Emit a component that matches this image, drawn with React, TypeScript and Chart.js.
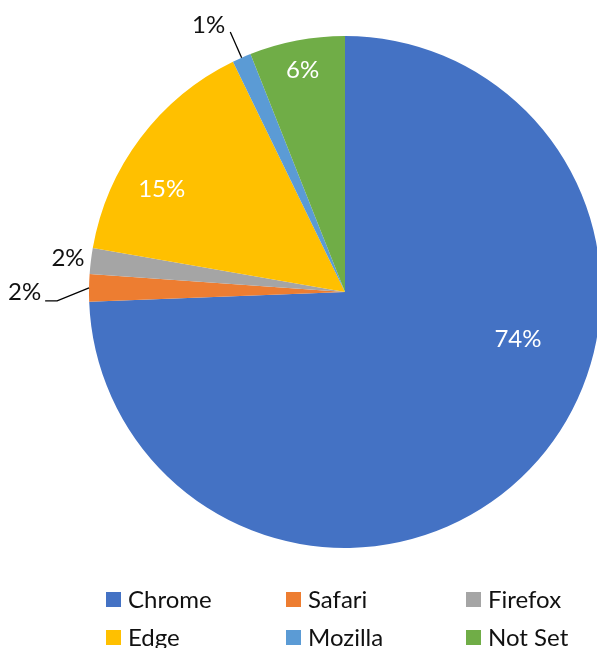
import React, { useEffect, useRef } from "react";
import { Chart, registerables } from "chart.js";

Chart.register(...registerables);

const categories = ["Chrome", "Safari", "Firefox", "Edge", "Mozilla", "Not Set"];
const shares = [74.4, 1.73, 1.62, 15.05, 1.19, 6.02];
const pctLabels = ["74%", "2%", "2%", "15%", "1%", "6%"];
const colors = ["#4472C4", "#ED7D31", "#A5A5A5", "#FFC000", "#5B9BD5", "#70AD47"];

const FONT = "24px Lato, 'Open Sans', sans-serif";
const TEXT_DARK = "#111111";

// label placement relative to each slice (angle offset from slice middle, radius fraction)
const labelPlacement: any[] = [
  { kind: "inside", dAngle: -28.7, r: 0.7 },
  { kind: "leader", dAngle: -2.7, r: 1.125, tail: -12, dx: -4, dy: -9 },
  { kind: "outside", dAngle: 0, r: 1.09 },
  { kind: "inside", dAngle: -7.8, r: 0.82 },
  { kind: "leader", dAngle: 0, r: 1.11, tail: 0, dx: -5, dy: -7 },
  { kind: "inside", dAngle: 0, r: 0.88 },
];

const labelPlugin = {
  id: "sliceLabels",
  afterDatasetsDraw(chart: any) {
    const ctx = chart.ctx;
    const meta = chart.getDatasetMeta(0);
    ctx.save();
    ctx.font = FONT;
    meta.data.forEach((arc: any, i: number) => {
      const { x, y, startAngle, endAngle, outerRadius } = arc.getProps(
        ["x", "y", "startAngle", "endAngle", "outerRadius"],
        true
      );
      const mid = (startAngle + endAngle) / 2;
      const p = labelPlacement[i];
      const a = mid + (p.dAngle * Math.PI) / 180;
      const px = x + Math.cos(a) * outerRadius * p.r;
      const py = y + Math.sin(a) * outerRadius * p.r;
      if (p.kind === "inside") {
        ctx.fillStyle = "#ffffff";
        ctx.textAlign = "center";
        ctx.textBaseline = "middle";
        ctx.fillText(pctLabels[i], px, py);
      } else if (p.kind === "outside") {
        ctx.fillStyle = TEXT_DARK;
        ctx.textAlign = "center";
        ctx.textBaseline = "middle";
        ctx.fillText(pctLabels[i], px, py);
      } else {
        const ex = x + Math.cos(mid) * outerRadius;
        const ey = y + Math.sin(mid) * outerRadius;
        const endX = px + p.tail;
        ctx.strokeStyle = "#000000";
        ctx.lineWidth = 1.3;
        ctx.beginPath();
        ctx.moveTo(ex, ey);
        ctx.lineTo(px, py);
        if (p.tail !== 0) ctx.lineTo(endX, py);
        ctx.stroke();
        ctx.fillStyle = TEXT_DARK;
        ctx.textAlign = "right";
        ctx.textBaseline = "middle";
        ctx.fillText(pctLabels[i], endX + p.dx, py + p.dy);
      }
    });
    ctx.restore();
  },
};

const legendPlugin = {
  id: "gridLegend",
  afterDraw(chart: any) {
    const ctx = chart.ctx;
    ctx.save();
    ctx.font = FONT;
    ctx.textAlign = "left";
    ctx.textBaseline = "middle";
    categories.forEach((name, i) => {
      const col = i % 3;
      const row = Math.floor(i / 3);
      const bx = 106 + col * 180;
      const by = 592 + row * 38;
      ctx.fillStyle = colors[i];
      ctx.fillRect(bx, by, 15, 15);
      ctx.fillStyle = TEXT_DARK;
      ctx.fillText(name, bx + 22, by + 8);
    });
    ctx.restore();
  },
};

export default function App() {
  const canvasRef = useRef<HTMLCanvasElement>(null);

  useEffect(() => {
    document.body.style.overflow = "hidden";
    const chart = new Chart(canvasRef.current as HTMLCanvasElement, {
      type: "pie",
      data: {
        labels: categories,
        datasets: [
          {
            data: shares,
            backgroundColor: colors,
            borderWidth: 0,
          },
        ],
      },
      options: {
        responsive: false,
        animation: false,
        layout: { padding: { left: 89, top: 36, right: 19, bottom: 100 } },
        plugins: {
          legend: { display: false },
          tooltip: { enabled: false },
        },
      },
      plugins: [labelPlugin, legendPlugin],
    } as any);
    return () => chart.destroy();
  }, []);

  return (
    <div style={{ position: "fixed", left: 0, top: 0, width: 620, height: 648, background: "#ffffff" }}>
      <canvas ref={canvasRef} width={620} height={648} style={{ width: 620, height: 648 }} />
    </div>
  );
}
